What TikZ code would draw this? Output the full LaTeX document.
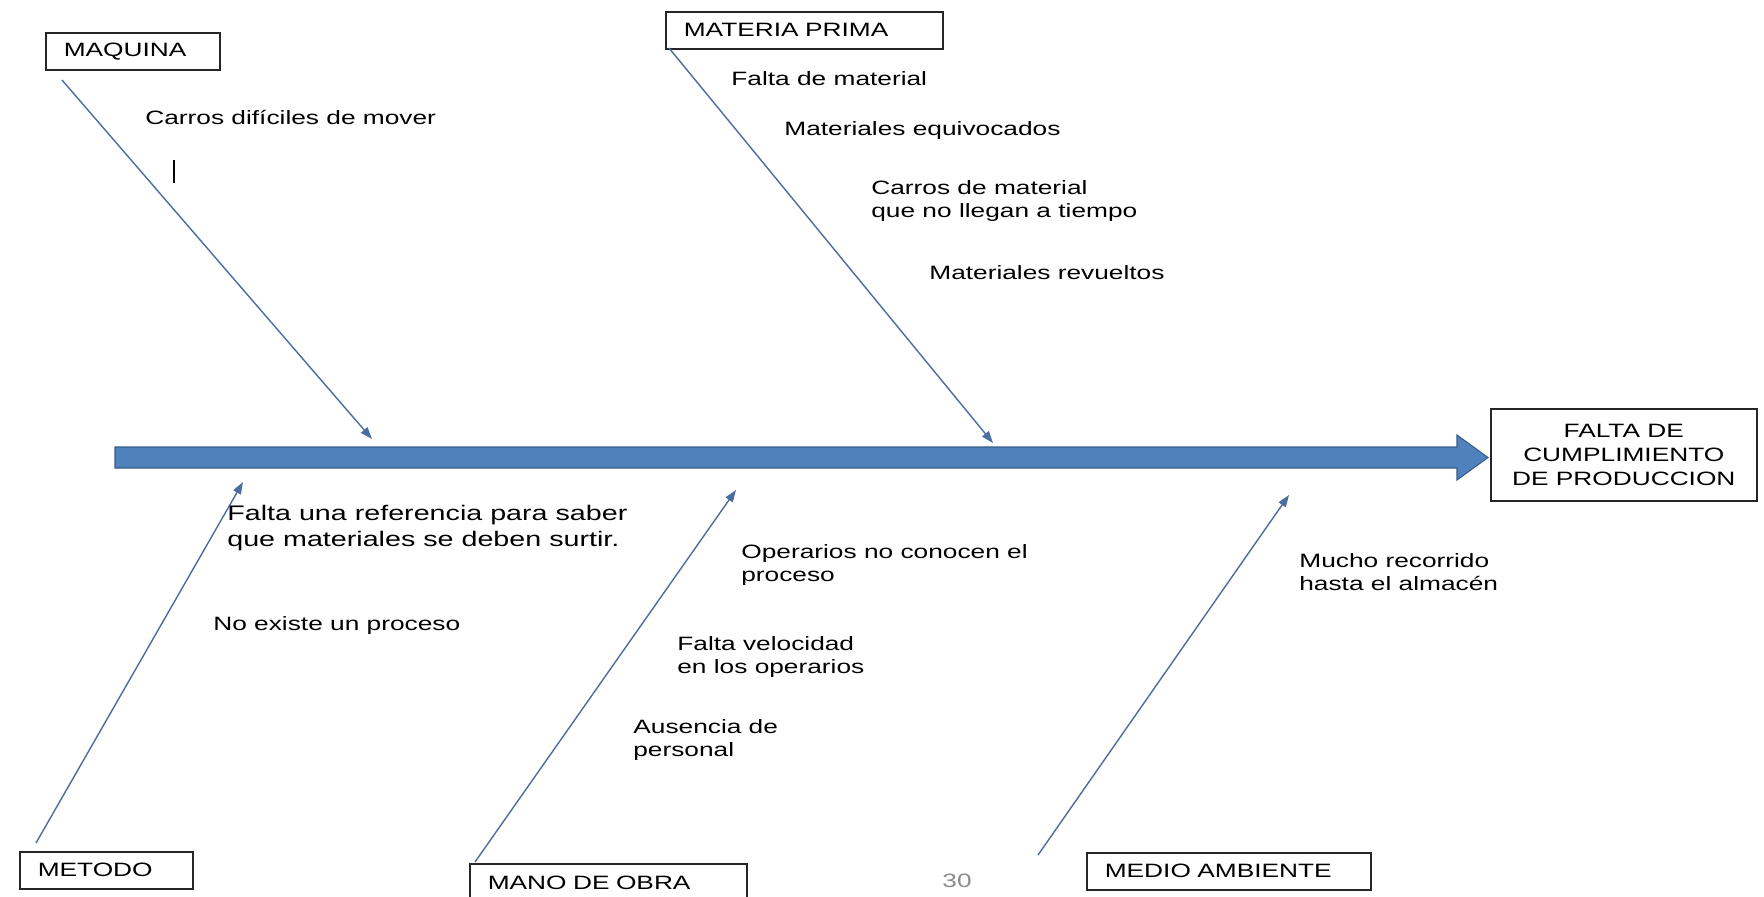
\documentclass[tikz,border=0pt]{standalone}
\usepackage{fontspec}
\setmainfont{Liberation Sans}[FakeStretch=1.36]
\usetikzlibrary{arrows.meta}
\definecolor{espina}{RGB}{79,129,189}
\definecolor{espinaborde}{RGB}{56,93,138}
\definecolor{rama}{RGB}{74,110,160}
\begin{document}
\begin{tikzpicture}[x=0.02cm,y=-0.02cm,font=\fontsize{11}{13.5}\selectfont,
  causa/.style={draw=black!85,line width=0.9pt,anchor=north west,inner xsep=0.36cm,inner ysep=0pt,align=left,minimum height=0.74cm},
  idea/.style={anchor=west,inner sep=0pt,align=left},
  rama/.style={draw=rama,line width=0.8pt,-{Triangle[length=0.24cm,width=0.17cm]}}]
\clip(0,0)rectangle(1764,896);
\fill[white](0,0)rectangle(1764,896);
\filldraw[fill=espina,draw=espinaborde,line width=0.6pt](115,447)--(1457,447)--(1457,435)--(1488,457.5)--(1457,480)--(1457,468)--(115,468)--cycle;
\node[draw=black!85,line width=0.9pt,anchor=north west,minimum width=5.32cm,minimum height=1.84cm,align=center,inner sep=0pt](efecto)at(1490,408){FALTA DE\\CUMPLIMIENTO\\DE PRODUCCION};
\node[causa,text width=2.76cm](maquina)at(45,32){MAQUINA};
\node[causa,text width=4.82cm](materia)at(665,11){MATERIA PRIMA};
\node[causa,text width=2.74cm](metodo)at(19,851){METODO};
\node[causa,text width=4.82cm,minimum height=0.78cm](mano)at(469,863){MANO DE OBRA};
\node[causa,text width=4.96cm](medio)at(1086,852){MEDIO AMBIENTE};
\coordinate(tMaq)at(62,80);\coordinate(pMaq)at(372,439);
\coordinate(tMat)at(669,48);\coordinate(pMat)at(993,443);
\coordinate(tMet)at(36,843);\coordinate(pMet)at(243,482);
\coordinate(tMan)at(475,862);\coordinate(pMan)at(736,490);
\coordinate(tMed)at(1038,855);\coordinate(pMed)at(1289,495);
\draw[rama](tMaq)--(pMaq);
\draw[rama](tMat)--(pMat);
\draw[rama](tMet)--(pMet);
\draw[rama](tMan)--(pMan);
\draw[rama](tMed)--(pMed);
\node[idea](carros)at(145,117){Carros difíciles de mover};
\draw[line width=0.8pt](174,160)--(174,183);
\node[idea](faltamat)at(731,79){Falta de material};
\node[idea](equivoc)at(784,130){Materiales equivocados};
\node[idea](tiempo)at(871,201){Carros de material\\que no llegan a tiempo};
\node[idea](revueltos)at(929,273){Materiales revueltos};
\node[idea,font=\fontsize{12}{15}\selectfont](referencia)at(227,528){Falta una referencia para saber\\que materiales se deben surtir.};
\node[idea](proceso)at(213,625){No existe un proceso};
\node[idea](operarios)at(741,565){Operarios no conocen el\\proceso};
\node[idea](velocidad)at(677,657){Falta velocidad\\en los operarios};
\node[idea](ausencia)at(633,740){Ausencia de\\personal};
\node[idea](recorrido)at(1299,572){Mucho recorrido\\hasta el almacén};
\node[text=black!45](pagina)at(957,881){30};
\end{tikzpicture}
\end{document}
